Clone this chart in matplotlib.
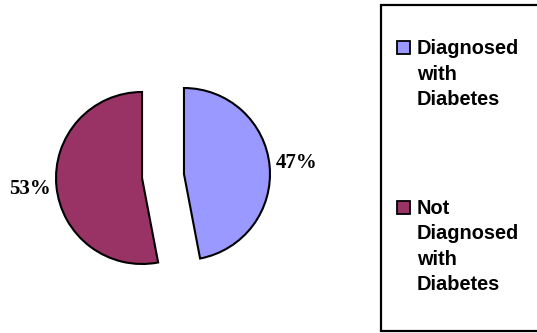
import matplotlib
matplotlib.use("Agg")
import matplotlib.pyplot as plt
from matplotlib.lines import Line2D
from matplotlib.patches import Rectangle

# Share of respondents by diabetes diagnosis
categories = ["Diagnosed\nwith\nDiabetes", "Not\nDiagnosed\nwith\nDiabetes"]
shares = [47, 53]
colors = ["#9999FF", "#993366"]

W, H, DPI = 537, 333, 100
fig = plt.figure(figsize=(W / DPI, H / DPI), dpi=DPI)
fig.patch.set_facecolor("white")

# Axes spans the whole canvas; one data unit equals the pie radius (86 px)
R_PX = 86.0
cx, cy = 163.0, H - 176.0
ax = fig.add_axes([0, 0, 1, 1])
wedges, texts, autotexts = ax.pie(
    shares,
    colors=colors,
    startangle=90,
    counterclock=False,
    explode=[0.245, 0.245],
    autopct=lambda p: f"{p:.0f}%",
    pctdistance=1.31,
    wedgeprops=dict(edgecolor="black", linewidth=1.5),
    textprops=dict(family="Liberation Serif", fontweight="bold", fontsize=15, color="black"),
)
ax.set_xlim(-cx / R_PX, (W - cx) / R_PX)
ax.set_ylim(-cy / R_PX, (H - cy) / R_PX)
ax.set_aspect("equal")
ax.axis("off")

def fx(px):
    return px / W

def fy(py):
    return 1 - py / H

# Legend frame: left, top and bottom sides; it continues past the right edge
fig.add_artist(Line2D([fx(W), fx(381), fx(381), fx(W)],
                      [fy(5), fy(5), fy(331), fy(331)],
                      transform=fig.transFigure, color="black",
                      linewidth=1.6, solid_joinstyle="miter", zorder=1))

line_step = 25.6
first_baselines = [54, 213.5]
for label, color, base in zip(categories, colors, first_baselines):
    fig.add_artist(Rectangle((fx(397), fy(base)), fx(13), fy(base - 13) - fy(base),
                             transform=fig.transFigure, facecolor=color,
                             edgecolor="black", linewidth=1.3, zorder=2))
    for i, line in enumerate(label.split("\n")):
        fig.text(fx(417), fy(base + i * line_step), line,
                 family="Liberation Sans", fontweight="bold", fontsize=14.4,
                 ha="left", va="baseline", color="black", zorder=3)

fig.savefig("out.png", dpi=DPI, facecolor="white")
